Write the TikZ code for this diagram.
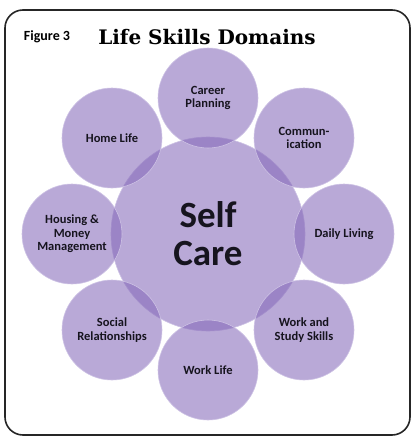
\documentclass[tikz,border=0pt]{standalone}
\usepackage{fontspec}
\setsansfont{Carlito}
\newfontfamily\titlefont{DejaVu Serif}
\definecolor{lilac}{RGB}{134,106,186}
\definecolor{rim}{RGB}{205,194,228}
\definecolor{ink}{RGB}{22,20,30}
\begin{document}
\begin{tikzpicture}[x=1pt,y=-1pt,
  thick,skill node/.style={circle,fill=lilac,fill opacity=0.58,text opacity=1,
    draw=rim,line width=0.6pt,minimum size=100pt,inner sep=0pt,align=center,
    text=ink,font=\sffamily\bfseries\fontsize{12.5}{13.5}\selectfont},
  core node/.style={skill node,minimum size=194pt,
    font=\sffamily\bfseries\fontsize{37}{38}\selectfont}]

  \useasboundingbox (0,0) rectangle (415,442);
  \draw[rounded corners=18pt,line width=1.6pt,black!85] (5,10) rectangle (410,435);

  \node[anchor=base,font=\sffamily\bfseries\fontsize{14}{16}\selectfont] (fig) at (47,40) {Figure 3};
  \node[anchor=base,font=\titlefont\bfseries\fontsize{20}{24}\selectfont] (title) at (207,44) {Life Skills Domains};

  \node[core node] (self) at (208,234) {Self\\Care};

  \node[skill node] (career) at (208,98) {Career\\Planning};
  \node[skill node] (comm) at (304,138) {Commun-\\ication};
  \node[skill node] (daily) at (344,234) {Daily Living};
  \node[skill node] (study) at (304,330) {Work and\\Study Skills};
  \node[skill node] (work) at (208,370) {Work Life};
  \node[skill node] (social) at (112,330) {Social\\Relationships};
  \node[skill node] (housing) at (72,234) {Housing \&\\Money\\Management};
  \node[skill node] (home) at (112,138) {Home Life};
\end{tikzpicture}
\end{document}
